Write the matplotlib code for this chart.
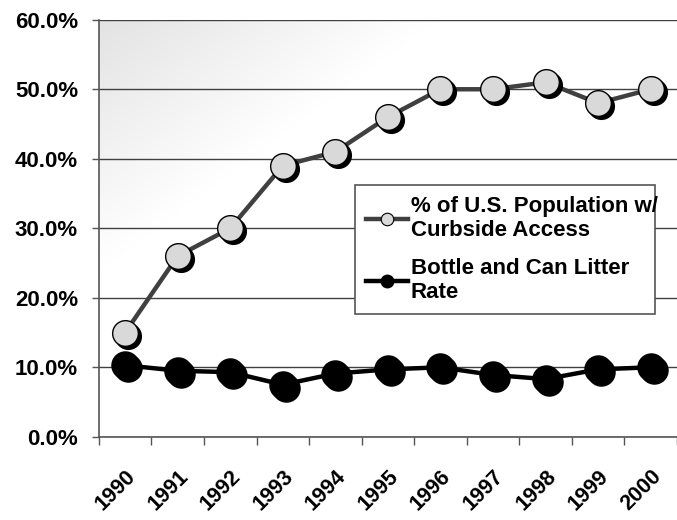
import matplotlib.pyplot as plt
import matplotlib.transforms as mtransforms
from matplotlib.lines import Line2D
from matplotlib.ticker import PercentFormatter
import numpy as np

plt.rcParams['font.family'] = ['Liberation Sans', 'DejaVu Sans']

years = ['1990', '1991', '1992', '1993', '1994', '1995',
         '1996', '1997', '1998', '1999', '2000']
curbside = [15.0, 26.0, 30.0, 39.0, 41.0, 46.0, 50.0, 50.0, 51.0, 48.0, 50.0]
litter = [10.3, 9.5, 9.3, 7.5, 9.1, 9.7, 10.0, 8.9, 8.3, 9.7, 10.0]

label_curb = '% of U.S. Population w/\nCurbside Access'
label_litter = 'Bottle and Can Litter\nRate'

fig = plt.figure(figsize=(6.77, 5.2), dpi=100)
ax = fig.add_axes([0.146, 0.16, 0.854, 0.802])

# light gray wash fading out from the top-left corner
gx, gy = np.meshgrid(np.linspace(0, 1, 300), np.linspace(0, 1, 300))
wash = np.clip(1.0 - (gx / 0.58 + gy / 0.6), 0, 1)
shade = 1.0 - 0.11 * wash
rgb = np.dstack([shade, shade, shade])
ax.imshow(rgb, extent=[0, 1, 0, 1], transform=ax.transAxes, origin='upper',
          aspect='auto', zorder=0, interpolation='bilinear')

x = np.arange(len(years))
shadow = mtransforms.offset_copy(ax.transData, fig=fig, x=3, y=-3, units='dots')

for vals, col, face, ms in [(curbside, '#404040', '#d9d9d9', 18.5),
                            (litter, '#000000', '#000000', 19.5)]:
    ax.plot(x, vals, color=col, lw=3.2, zorder=3)
    ax.plot(x, vals, ls='none', marker='o', ms=ms, mfc='black', mec='black',
            transform=shadow, zorder=4)
    ax.plot(x, vals, ls='none', marker='o', ms=ms, mfc=face, mec='black',
            mew=1.0, zorder=5)

ax.set_xlim(-0.5, len(years) - 0.5)
ax.set_ylim(0, 60)
ax.set_yticks(np.arange(0, 61, 10))
ax.yaxis.set_major_formatter(PercentFormatter(decimals=1))
ax.grid(axis='y', color='#404040', lw=1.0, zorder=1)
ax.set_axisbelow(True)

ax.set_xticks(x)
ax.set_xticklabels(years, rotation=45, ha='right', va='top',
                   rotation_mode='anchor', fontsize=15.5, fontweight='bold')
shift = mtransforms.ScaledTranslation(-10 / 100, 0, fig.dpi_scale_trans)
for lab in ax.get_xticklabels():
    lab.set_transform(lab.get_transform() + shift)
ax.set_xticks(np.arange(-0.5, len(years), 1), minor=True)
ax.tick_params(axis='x', which='major', length=0, pad=21)
ax.tick_params(axis='x', which='minor', length=6, color='#555555', width=1)
ax.tick_params(axis='y', length=5, color='#555555', width=1, labelsize=16, pad=10)
for lab in ax.get_yticklabels():
    lab.set_fontweight('bold')

for side in ['top', 'right']:
    ax.spines[side].set_visible(False)
for side in ['left', 'bottom']:
    ax.spines[side].set_color('#555555')
    ax.spines[side].set_linewidth(1.2)

handles = [
    Line2D([], [], color='#404040', lw=3.2, marker='o', ms=9,
           mfc='#d9d9d9', mec='black', mew=0.8),
    Line2D([], [], color='black', lw=3.2, marker='o', ms=9,
           mfc='black', mec='black'),
]
leg = ax.legend(handles, [label_curb, label_litter], loc='upper left',
                bbox_to_anchor=(0.443, 0.297, 0.519, 0.307), mode='expand',
                fancybox=False, framealpha=1, edgecolor='#555555',
                prop={'size': 16, 'weight': 'bold'}, handlelength=1.9,
                handletextpad=0.1, borderpad=0.5, labelspacing=0.75,
                borderaxespad=0)
leg.get_frame().set_linewidth(1.2)
leg.set_zorder(6)

fig.savefig('out.png', dpi=100)
